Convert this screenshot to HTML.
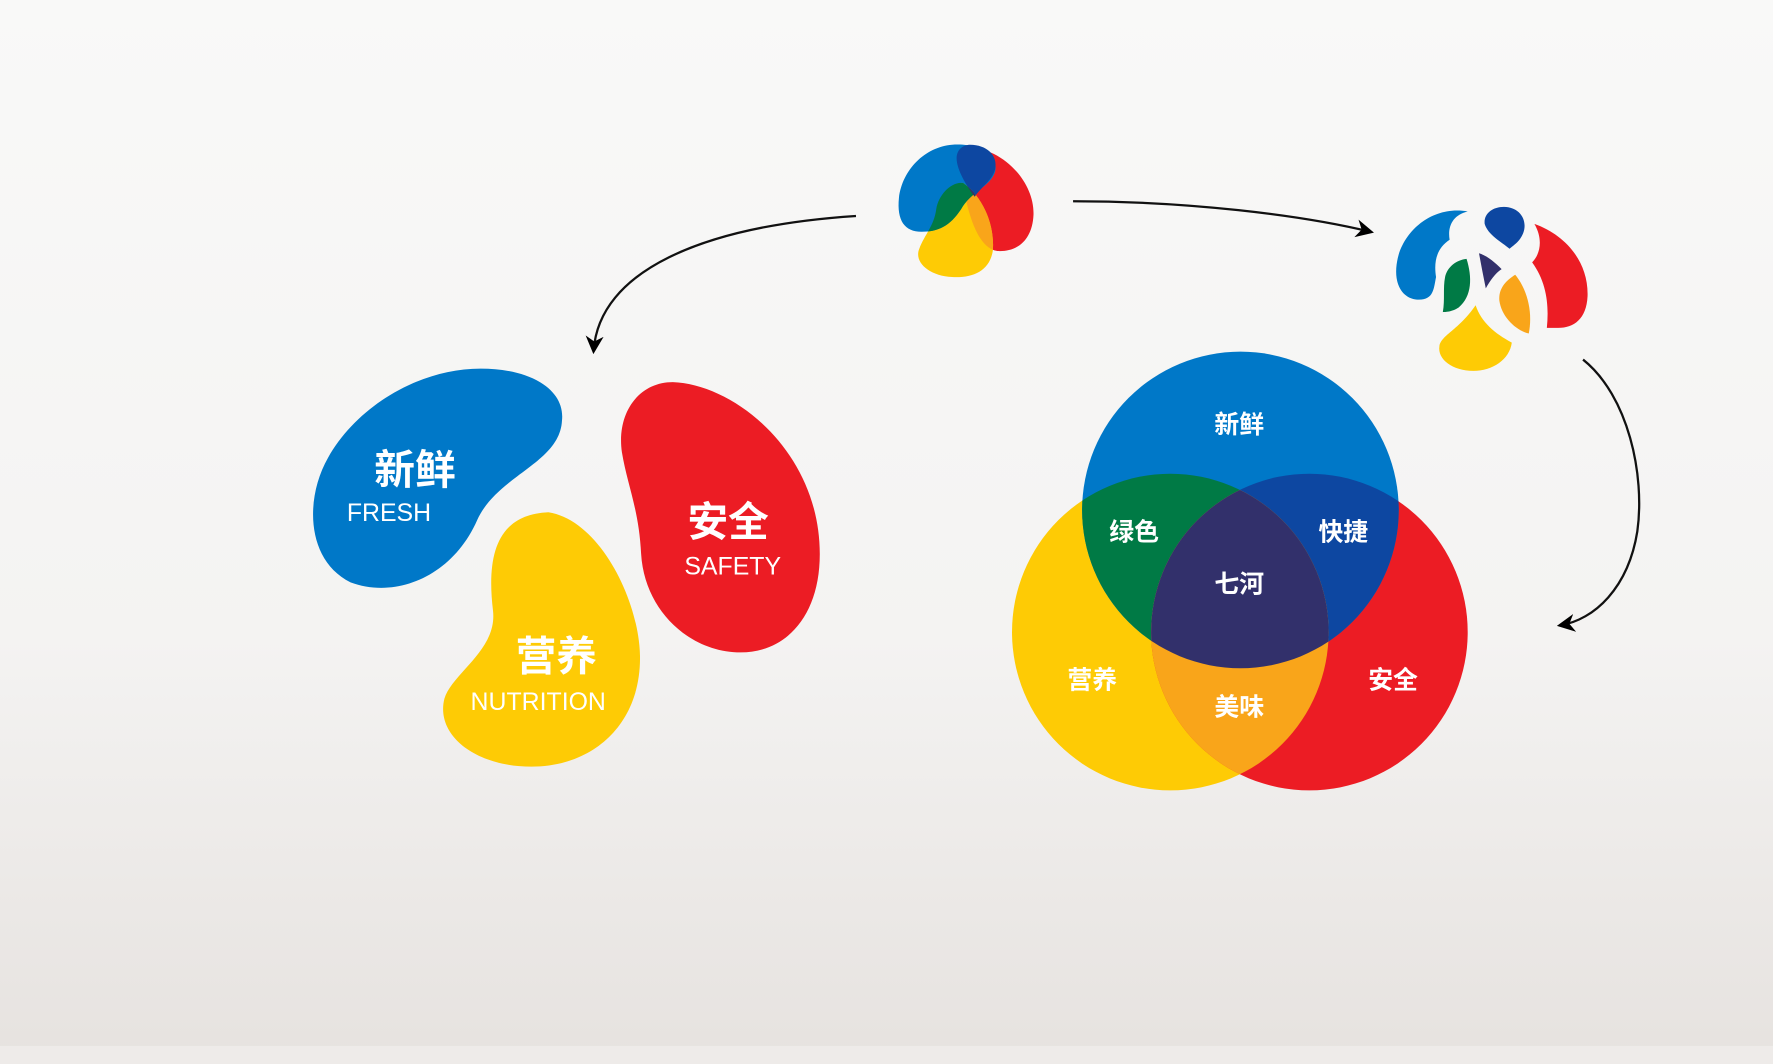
<!DOCTYPE html>
<html><head><meta charset="utf-8"><style>
html,body{margin:0;padding:0;width:1773px;height:1064px;overflow:hidden}
svg{display:block}
text{font-family:"Liberation Sans","Noto Sans CJK SC",sans-serif;fill:#fff;text-anchor:middle}
.cn{font-weight:bold}
</style></head><body>
<svg width="1773" height="1064" viewBox="0 0 1568 941" preserveAspectRatio="none" xmlns="http://www.w3.org/2000/svg">
<defs>
<linearGradient id="bg" x1="0" y1="0" x2="0" y2="1">
<stop offset="0" stop-color="#f9f9f8"/><stop offset="0.6" stop-color="#f4f3f2"/><stop offset="1" stop-color="#e6e2df"/>
</linearGradient>
<clipPath id="cb"><circle cx="1097" cy="451" r="140"/></clipPath>
<clipPath id="cy"><circle cx="1035" cy="559" r="140"/></clipPath>
<clipPath id="cr"><circle cx="1158" cy="559" r="140"/></clipPath>
<path id="lb" d="M842,128 C868,126 884,140 880,152 C876,165 858,170 850,185 C840,200 830,205 815,205 C800,205 793,195 795,175 C798,150 818,130 842,128 Z"/>
<path id="lr" d="M850,130 C885,128 915,160 914,190 C913,212 900,223 882,222 C868,220 860,200 855,180 C850,160 840,132 850,130 Z"/>
<path id="ly" d="M852,162 C870,175 880,200 878,222 C875,240 860,246 842,245 C822,244 808,232 813,220 C818,207 826,200 828,185 C830,172 842,160 852,162 Z"/>
<path id="ld" d="M858,128 C872,128 883,137 880,150 C877,160 868,165 862,174 C855,165 846,150 846,140 C846,132 852,128 858,128 Z"/>
<clipPath id="cly"><use href="#ly"/></clipPath>
<marker id="ah" viewBox="0 0 10 10" refX="8" refY="5" markerWidth="16" markerHeight="16" markerUnits="userSpaceOnUse" orient="auto">
<path d="M0,0 L10,5 L0,10 L3,5 Z" fill="#000"/></marker>
</defs>
<rect width="1568" height="941" fill="url(#bg)"/>
<rect y="925" width="1568" height="16" fill="#eeebe9"/>

<g fill="none" stroke="#111" stroke-width="2">
<path d="M757,191 C620,200 530,240 525,310" marker-end="url(#ah)"/>
<path d="M949,178 C1050,178 1150,190 1212,205" marker-end="url(#ah)"/>
<path d="M1400,318 C1440,350 1455,420 1448,470 C1440,520 1410,548 1380,553" marker-end="url(#ah)"/>
</g>

<path fill="#0078c8" d="M425,326 C470,326 500,345 497,372 C495,410 440,420 422,460 C400,510 350,530 310,515 C270,495 270,440 290,405 C315,360 370,326 425,326 Z"/>
<path fill="#fecb05" d="M485,453 C530,460 565,530 566,580 C567,640 525,678 470,678 C420,678 385,650 393,618 C400,595 440,575 436,540 C430,490 440,455 485,453 Z"/>
<path fill="#ec1c24" d="M595,338 C650,340 725,400 725,490 C725,545 695,577 655,577 C610,577 570,540 567,490 C565,450 555,430 550,400 C545,365 565,338 595,338 Z"/>
<text class="cn" x="367" y="428" font-size="36">新鲜</text>
<text x="344" y="461" font-size="22">FRESH</text>
<text class="cn" x="644" y="474" font-size="36">安全</text>
<text x="648" y="508" font-size="22">SAFETY</text>
<text class="cn" x="492" y="593" font-size="36">营养</text>
<text x="476" y="628" font-size="22">NUTRITION</text>

<circle cx="1035" cy="559" r="140" fill="#fecb05"/>
<circle cx="1158" cy="559" r="140" fill="#ec1c24"/>
<circle cx="1097" cy="451" r="140" fill="#0078c8"/>
<g clip-path="url(#cb)"><circle cx="1035" cy="559" r="140" fill="#007a45"/><circle cx="1158" cy="559" r="140" fill="#0d47a1"/></g>
<g clip-path="url(#cy)"><circle cx="1158" cy="559" r="140" fill="#f9a51a"/></g>
<g clip-path="url(#cy)"><g clip-path="url(#cr)"><circle cx="1097" cy="451" r="140" fill="#32306b"/></g></g>
<g font-size="22">
<text class="cn" x="1096" y="383">新鲜</text>
<text class="cn" x="1003" y="478">绿色</text>
<text class="cn" x="1188" y="478">快捷</text>
<text class="cn" x="1096" y="524">七河</text>
<text class="cn" x="966" y="609">营养</text>
<text class="cn" x="1232" y="609">安全</text>
<text class="cn" x="1096" y="633">美味</text>
</g>

<!-- logo 1 -->
<use href="#lr" fill="#ec1c24"/>
<use href="#ly" fill="#fecb05"/>
<use href="#lb" fill="#0078c8"/>
<use href="#ld" fill="#0d47a1"/>
<g clip-path="url(#cly)">
<use href="#lr" fill="#f9a51a"/>
<use href="#lb" fill="#007a45"/>
<use href="#ld" fill="#32306b"/>
</g>

<!-- logo 2 -->
<path fill="#0078c8" d="M1298,187 C1270,182 1245,200 1237,225 C1230,250 1240,265 1255,265 C1268,265 1268,255 1270,245 C1268,232 1270,220 1282,212 C1280,200 1285,190 1298,187 Z"/>
<path fill="#0d47a1" d="M1330,183 C1342,183 1350,192 1348,203 C1346,212 1340,216 1335,220 C1328,214 1316,208 1313,198 C1312,189 1320,183 1330,183 Z"/>
<path fill="#ec1c24" d="M1357,198 C1385,208 1405,232 1404,262 C1403,282 1392,290 1378,290 L1368,290 C1370,270 1368,250 1355,232 C1362,225 1365,212 1357,198 Z"/>
<path fill="#007a45" d="M1297,229 C1302,245 1302,262 1290,272 C1284,276 1278,276 1276,276 C1278,265 1276,255 1278,245 C1280,236 1288,230 1297,229 Z"/>
<path fill="#32306b" d="M1308,224 C1315,226 1322,232 1328,238 C1322,242 1318,248 1314,255 C1312,245 1310,235 1308,224 Z"/>
<path fill="#f9a51a" d="M1340,243 C1350,255 1356,275 1352,295 C1340,292 1328,280 1326,266 C1325,255 1332,248 1340,243 Z"/>
<path fill="#fecb05" d="M1305,270 C1310,285 1322,295 1337,303 C1335,318 1320,328 1303,328 C1285,328 1271,318 1273,306 C1275,296 1290,292 1305,270 Z"/>
</svg>
</body></html>
